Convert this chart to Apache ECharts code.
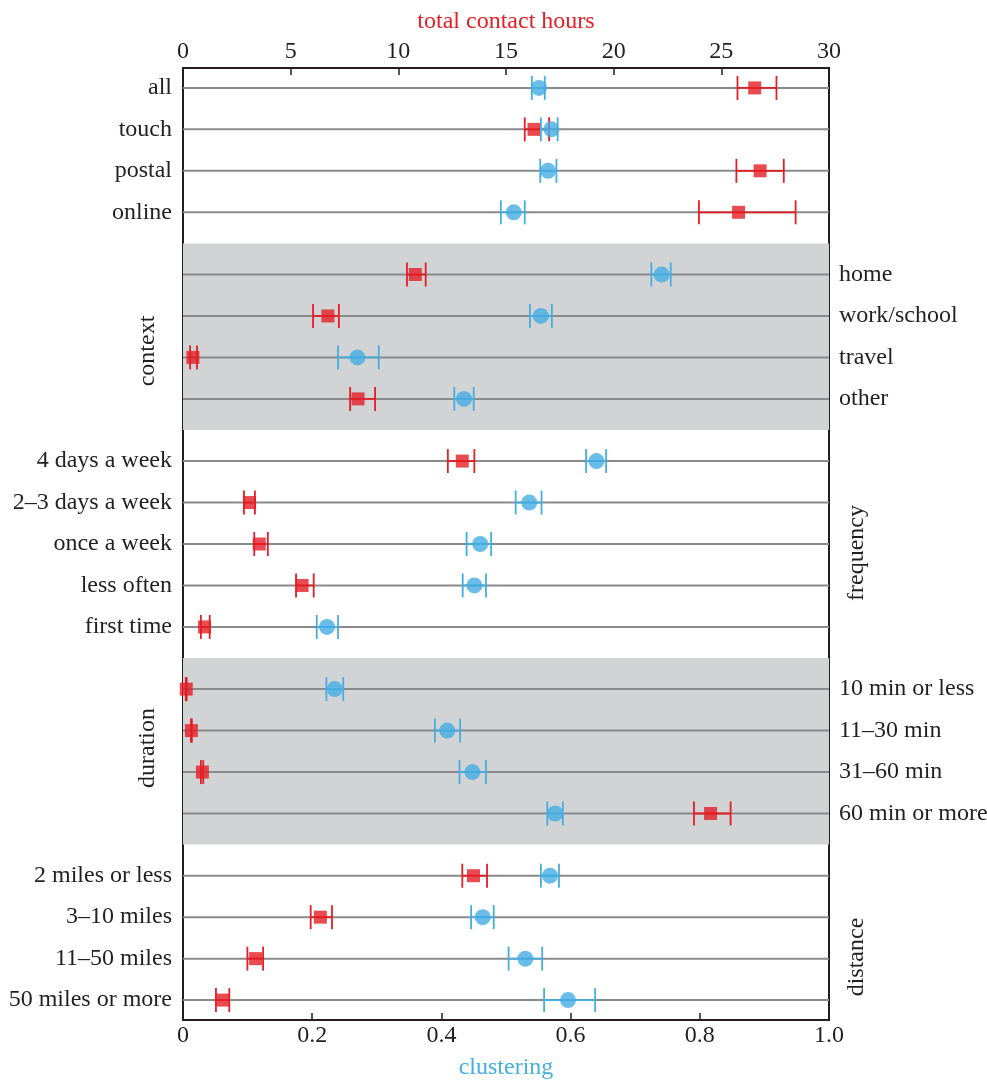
<!DOCTYPE html>
<html>
<head>
<meta charset="utf-8">
<style>html,body{margin:0;padding:0;background:#fff;}#c{width:987px;height:1081px;}</style>
<script src="https://cdn.jsdelivr.net/npm/echarts@6/dist/echarts.min.js"></script>
</head>
<body>
<div id="c"></div>
<script>
const labels = ['all','touch','postal','online','home','work/school','travel','other','4 days a week','2\u20133 days a week','once a week','less often','first time','10 min or less','11\u201330 min','31\u201360 min','60 min or more','2 miles or less','3\u201310 miles','11\u201350 miles','50 miles or more'];
const rowPos = [0,1,2,3,4.5,5.5,6.5,7.5,9,10,11,12,13,14.5,15.5,16.5,17.5,19,20,21,22];
const labelSide = ['L','L','L','L','R','R','R','R','L','L','L','L','L','R','R','R','R','L','L','L','L'];
const bands = [[3.75,8.25],[13.75,18.25]];
const groupTitles = ['context','frequency','duration','distance'];

const hours     = [26.55,16.3,26.8,25.8,10.79,6.73,0.46,8.13,12.97,3.09,3.54,5.53,1.0,0.15,0.39,0.9,24.5,13.49,6.38,3.37,1.84];
const hoursLow  = [25.75,15.87,25.7,23.96,10.4,6.04,0.33,7.76,12.3,2.83,3.31,5.25,0.83,0.13,0.37,0.83,23.73,12.97,5.93,2.99,1.53];
const hoursHigh = [27.56,17.0,27.9,28.45,11.27,7.24,0.65,8.92,13.53,3.34,3.94,6.07,1.24,0.17,0.41,0.94,25.43,14.12,6.92,3.72,2.15];

const clustering  = [0.551,0.570,0.565,0.512,0.741,0.554,0.270,0.435,0.640,0.536,0.460,0.451,0.223,0.235,0.409,0.448,0.576,0.568,0.464,0.530,0.596];
const clusterLow  = [0.540,0.554,0.553,0.492,0.725,0.537,0.240,0.420,0.624,0.515,0.439,0.433,0.207,0.222,0.390,0.428,0.564,0.554,0.446,0.504,0.559];
const clusterHigh = [0.560,0.580,0.578,0.529,0.755,0.571,0.303,0.450,0.655,0.555,0.477,0.469,0.240,0.248,0.429,0.469,0.588,0.582,0.481,0.556,0.638];

const RED = '#e31e25', BLUE = '#44ade2', INK = '#231f20', FONT = 'Liberation Serif', FS = 24;
const leftVals = rowPos.filter((p,i)=>labelSide[i]==='L');
const rightVals = rowPos.filter((p,i)=>labelSide[i]==='R');
function labelFor(v){ const i = rowPos.findIndex(p=>Math.abs(p-v)<1e-6); return i>=0?labels[i]:''; }

function errRender(color){
  return function(params, api){
    const p = api.value(2);
    const a = api.coord([api.value(0), p]);
    const b = api.coord([api.value(1), p]);
    const h = 12;
    const st = {stroke: color, lineWidth: 1.8};
    return {type:'group', children:[
      {type:'line', shape:{x1:a[0],y1:a[1],x2:b[0],y2:b[1]}, style:st},
      {type:'line', shape:{x1:a[0],y1:a[1]-h,x2:a[0],y2:a[1]+h}, style:st},
      {type:'line', shape:{x1:b[0],y1:b[1]-h,x2:b[0],y2:b[1]+h}, style:st}
    ]};
  };
}

const chart = echarts.init(document.getElementById('c'), null, {renderer:'canvas'});
const yMin = -0.48, yMax = 22.48;
const titleFont = FS + 'px "Liberation Serif"';
chart.setOption({
  animation:false,
  textStyle:{fontFamily:FONT},
  grid:{left:183, right:158, top:68, bottom:61, outerBoundsMode:'none', containLabel:false, show:true, borderColor:INK, borderWidth:2, backgroundColor:'transparent'},
  xAxis:[
    {type:'value', position:'bottom', min:0, max:1, interval:0.2,
     name:'clustering', nameLocation:'middle', nameGap:36,
     nameTextStyle:{color:BLUE, fontSize:FS, fontFamily:FONT},
     axisLine:{show:true, onZero:false, lineStyle:{color:INK, width:2}},
     axisTick:{show:true, inside:true, length:7, lineStyle:{color:INK, width:1.5}},
     axisLabel:{color:INK, fontSize:FS, fontFamily:FONT, margin:4, formatter:v=> v===0?'0':v.toFixed(1)},
     splitLine:{show:false}},
    {type:'value', position:'top', min:0, max:30, interval:5,
     name:'total contact hours', nameLocation:'middle', nameGap:34,
     nameTextStyle:{color:RED, fontSize:FS, fontFamily:FONT},
     axisLine:{show:true, onZero:false, lineStyle:{color:INK, width:2}},
     axisTick:{show:true, inside:true, length:7, lineStyle:{color:INK, width:1.5}},
     axisLabel:{color:INK, fontSize:FS, fontFamily:FONT, margin:4},
     splitLine:{show:false}}
  ],
  yAxis:[
    {type:'value', position:'left', inverse:true, min:yMin, max:yMax,
     axisLine:{show:false}, axisTick:{show:false}, splitLine:{show:false},
     axisLabel:{customValues:leftVals, formatter:labelFor, color:INK, fontSize:FS, fontFamily:FONT, margin:11, showMinLabel:true, showMaxLabel:true}},
    {type:'value', position:'right', inverse:true, min:yMin, max:yMax,
     axisLine:{show:false}, axisTick:{show:false}, splitLine:{show:false},
     axisLabel:{customValues:rightVals, formatter:labelFor, color:INK, fontSize:FS, fontFamily:FONT, margin:10, showMinLabel:true, showMaxLabel:true}}
  ],
  series:[
    {type:'custom', name:'bands', xAxisIndex:0, yAxisIndex:0, z:1, silent:true,
     data:bands,
     renderItem:function(params, api){
       const a = api.coord([0, api.value(0)]);
       const b = api.coord([1, api.value(1)]);
       return {type:'rect', shape:{x:a[0], y:a[1], width:b[0]-a[0], height:b[1]-a[1]}, style:{fill:'#d2d3d5'}};
     }},
    {type:'custom', name:'rows', xAxisIndex:0, yAxisIndex:0, z:2, silent:true,
     data:rowPos.map(p=>[p]),
     renderItem:function(params, api){
       const a = api.coord([0, api.value(0)]);
       const b = api.coord([1, api.value(0)]);
       return {type:'line', shape:{x1:a[0], y1:a[1], x2:b[0], y2:b[1]}, style:{stroke:'#8a8a8c', lineWidth:2}};
     }},
    {type:'custom', name:'hoursErr', xAxisIndex:1, yAxisIndex:0, z:3, silent:true,
     data:rowPos.map((p,i)=>[hoursLow[i], hoursHigh[i], p]),
     renderItem:errRender(RED)},
    {type:'scatter', name:'hours', xAxisIndex:1, yAxisIndex:0, z:4, silent:true,
     symbol:'rect', symbolSize:13, itemStyle:{color:RED},
     data:rowPos.map((p,i)=>[hours[i], p])},
    {type:'custom', name:'clusterErr', xAxisIndex:0, yAxisIndex:0, z:5, silent:true,
     data:rowPos.map((p,i)=>[clusterLow[i], clusterHigh[i], p]),
     renderItem:errRender(BLUE)},
    {type:'scatter', name:'clustering', xAxisIndex:0, yAxisIndex:0, z:6, silent:true,
     symbol:'circle', symbolSize:16, itemStyle:{color:BLUE},
     data:rowPos.map((p,i)=>[clustering[i], p])}
  ],
  graphic:[
    {type:'text', x:148, y:351, rotation:Math.PI/2, style:{text:groupTitles[0], fill:INK, font:titleFont, align:'center', verticalAlign:'middle'}},
    {type:'text', x:857, y:553, rotation:Math.PI/2, style:{text:groupTitles[1], fill:INK, font:titleFont, align:'center', verticalAlign:'middle'}},
    {type:'text', x:148, y:748, rotation:Math.PI/2, style:{text:groupTitles[2], fill:INK, font:titleFont, align:'center', verticalAlign:'middle'}},
    {type:'text', x:857, y:957, rotation:Math.PI/2, style:{text:groupTitles[3], fill:INK, font:titleFont, align:'center', verticalAlign:'middle'}}
  ]
});
</script>
</body>
</html>
